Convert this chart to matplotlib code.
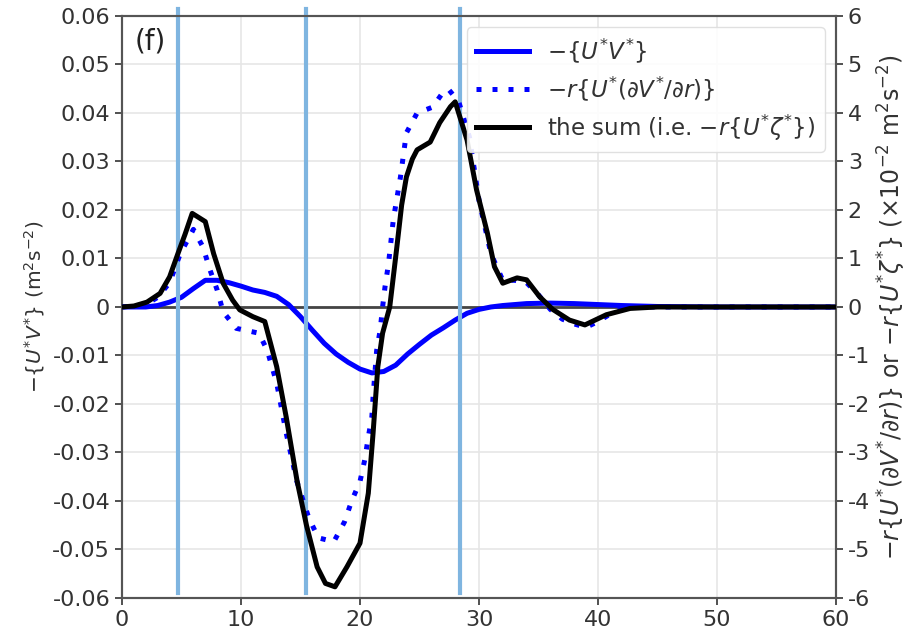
import matplotlib
matplotlib.use("Agg")
import matplotlib.pyplot as plt
import numpy as np

# radius (x) values
r_uv = [0, 1, 2, 3, 4, 5, 6, 7, 8, 9, 10, 11, 12, 13, 14, 15, 16, 17, 18, 19,
        20, 21, 22, 23, 24, 25, 26, 27, 28, 29, 30, 31, 32, 34, 36, 38, 40, 42, 45, 50, 55, 60]
# -{U*V*}  (left axis, m^2 s^-2)
uv = [0, 0, 0, 0.0003, 0.001, 0.002, 0.0038, 0.0055, 0.0055, 0.005, 0.0043, 0.0035,
      0.003, 0.0022, 0.0005, -0.002, -0.0048, -0.0075, -0.0097, -0.0114, -0.0128,
      -0.0136, -0.0133, -0.012, -0.0097, -0.0077, -0.0058, -0.0043, -0.0027, -0.0013,
      -0.0005, 0.0, 0.0003, 0.0007, 0.0008, 0.0007, 0.0005, 0.0003, 0.0001, 0, 0, 0]

# -r{U*(dV*/dr)}  (right axis, x1e-2 m^2 s^-2)
r_dv = [0, 2, 3, 4, 4.9, 6.0, 6.8, 7.4, 8.0, 8.5, 9.6, 11.5, 12.2, 13.0, 13.8, 14.7,
        15.7, 16.5, 17.8, 18.7, 19.3, 20.0, 20.4, 20.7, 21.0, 21.1, 21.4, 21.7, 21.9,
        22.1, 22.4, 22.8, 23.4, 23.9, 24.8, 26.1, 27.1, 27.5, 28.3, 29.2, 30.0, 31.0,
        32.0, 33.0, 34.0, 35.0, 36.0, 37.0, 38.0, 39.0, 40.0, 41.0, 42.0, 43.0, 50, 60]
dv = [0, 0.05, 0.2, 0.5, 1.1, 1.6, 1.24, 0.76, 0.35, -0.1, -0.44, -0.54, -0.89, -1.57,
      -2.6, -3.6, -4.35, -4.76, -4.84, -4.43, -4.0, -3.6, -3.15, -2.68, -2.26, -1.85,
      -0.9, -0.47, 0.0, 0.41, 0.9, 1.8, 2.68, 3.59, 4.0, 4.12, 4.47, 4.47, 4.23, 3.5, 2.2,
      1.1, 0.55, 0.55, 0.5, 0.25, -0.05, -0.25, -0.35, -0.42, -0.3, -0.15, -0.05, 0, 0, 0]

# the sum -r{U* zeta*}  (right axis, x1e-2 m^2 s^-2)
r_sum = [0, 1, 2.1, 3.2, 4.0, 4.7, 5.3, 5.9, 7.0, 7.7, 8.5, 9.3, 9.9, 11.0, 12.0, 13.0,
         13.8, 14.7, 15.5, 16.4, 17.1, 17.9, 18.9, 20.0, 20.7, 21.1, 21.5, 21.9, 22.5,
         23.1, 23.5, 23.9, 24.4, 24.8, 25.9, 26.3, 26.7, 27.6, 28.0, 29.0, 29.8, 30.7, 31.3,
         32.0, 33.2, 34.0, 35.1, 36.2, 37.6, 38.9, 40.7, 42.7, 45, 50, 60]
sm = [0, 0.02, 0.1, 0.28, 0.62, 1.1, 1.5, 1.93, 1.76, 1.1, 0.49, 0.14, -0.06, -0.2,
      -0.3, -1.23, -2.27, -3.57, -4.5, -5.36, -5.7, -5.77, -5.36, -4.87, -3.84, -2.6,
      -1.23, -0.54, 0.0, 1.24, 2.1, 2.68, 3.05, 3.24, 3.4, 3.6, 3.8, 4.13, 4.23, 3.44, 2.41,
      1.53, 0.83, 0.49, 0.6, 0.56, 0.21, -0.05, -0.27, -0.37, -0.16, -0.03, 0, 0, 0]

vlines_x = [4.7, 15.5, 28.4]

left_ticks = [0.06, 0.05, 0.04, 0.03, 0.02, 0.01, 0, -0.01, -0.02, -0.03, -0.04, -0.05, -0.06]
left_labels = ["0.06", "0.05", "0.04", "0.03", "0.02", "0.01", "0",
               "-0.01", "-0.02", "-0.03", "-0.04", "-0.05", "-0.06"]
right_ticks = [6, 5, 4, 3, 2, 1, 0, -1, -2, -3, -4, -5, -6]
right_labels = ["6", "5", "4", "3", "2", "1", "0", "-1", "-2", "-3", "-4", "-5", "-6"]
x_ticks = [0, 10, 20, 30, 40, 50, 60]

plt.rcParams['font.family'] = ['DejaVu Sans']
plt.rcParams['mathtext.fontset'] = 'dejavusans'
tc = '#333333'

fig = plt.figure(figsize=(9.07, 6.27), dpi=100)
ax = fig.add_axes([0.1345, 0.0463, 0.7872, 0.9282])
ax2 = ax.twinx()

ax.set_xlim(0, 60)
ax.set_ylim(-0.06, 0.06)
ax2.set_ylim(-6, 6)

ax.grid(True, color='#e6e6e6', lw=1.2)
ax.axhline(0, color='#444444', lw=2.0, zorder=2)

l1, = ax.plot(r_uv, uv, color='#0000ff', lw=3.6, zorder=3, label=r'$-\{U^{*}V^{*}\}$')
l2, = ax2.plot(r_dv, dv, color='#0000ff', lw=3.6, ls=(0, (1, 2.2)), zorder=3,
               label=r'$-r\{U^{*}(\partial V^{*}/\partial r)\}$')
l3, = ax2.plot(r_sum, sm, color='black', lw=3.6, zorder=4,
               label=r'the sum (i.e. $-r\{U^{*}\zeta^{*}\}$)')

for xv in vlines_x:
    ax.plot([xv, xv], [-0.059, 0.0615], color='#7fb5e0', lw=3.0, zorder=5, clip_on=False)

ax.set_xticks(x_ticks)
ax.set_yticks(left_ticks)
ax.set_yticklabels(left_labels)
ax2.set_yticks(right_ticks)
ax2.set_yticklabels(right_labels)

for a in (ax, ax2):
    a.tick_params(labelsize=16, colors=tc, length=5, width=1.2)
    for s in a.spines.values():
        s.set_color('#555555')
        s.set_linewidth(1.5)

ax.set_ylabel(r'$-\{U^{*}V^{*}\}$ (m$^2$s$^{-2}$)', fontsize=14.5, color=tc, labelpad=4)
ax2.set_ylabel(r'$-r\{U^{*}(\partial V^{*}/\partial r)\}$ or $-r\{U^{*}\zeta^{*}\}$ (×10$^{-2}$ m$^2$s$^{-2}$)',
               fontsize=17, color=tc, labelpad=4)

ax.text(0.017, 0.98, '(f)', transform=ax.transAxes, fontsize=20, va='top', ha='left', color='#222222')

leg = ax2.legend(handles=[l1, l2, l3], loc='upper right', fontsize=16.5,
                 handlelength=2.3, framealpha=0.9, edgecolor='#dddddd',
                 borderaxespad=0.5, labelspacing=0.4)
for t in leg.get_texts():
    t.set_color(tc)

fig.savefig('out.png', dpi=100)
